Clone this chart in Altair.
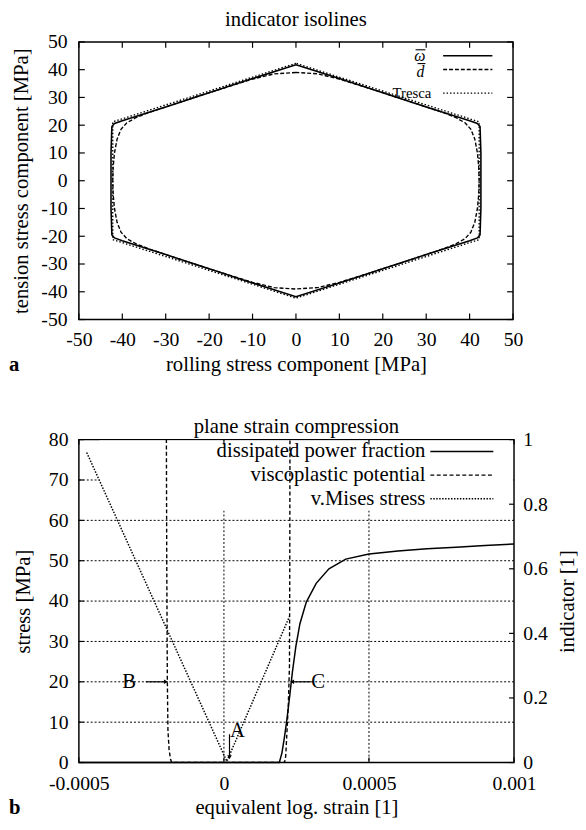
import altair as alt
import pandas as pd

FONT = "Liberation Serif"

# ---------------- panel a : indicator isolines ----------------
top_ticks = [-50, -40, -30, -20, -10, 0, 10, 20, 30, 40, 50]

omega_x = [0, -10, -20, -30, -40, -41.8, -42.4, -42.6, -42.6, -42.6, -42.4, -41.8, -40, -30, -20, -10, 0,
           10, 20, 30, 40, 41.8, 42.4, 42.6, 42.6, 42.6, 42.4, 41.8, 40, 30, 20, 10, 0]
omega_y = [41.8, 36.8, 31.7, 26.6, 21.6, 20.6, 19.5, 10, 0, -10, -19.5, -20.6, -21.6, -26.6, -31.7, -36.8, -41.8,
           -36.8, -31.7, -26.6, -21.6, -20.6, -19.5, -10, 0, 10, 19.5, 20.6, 21.6, 26.6, 31.7, 36.8, 41.8]

d_x = [0, -5, -10, -15, -20, -25, -30, -34, -37, -39, -40.3, -41.2, -41.8, -42.1, -42.2,
       -42.1, -41.8, -41.2, -40.3, -39, -37, -34, -30, -25, -20, -15, -10, -5, 0,
       5, 10, 15, 20, 25, 30, 34, 37, 39, 40.3, 41.2, 41.8, 42.1, 42.2,
       42.1, 41.8, 41.2, 40.3, 39, 37, 34, 30, 25, 20, 15, 10, 5, 0]
d_y = [39.0, 38.5, 36.6, 34.2, 31.7, 29.2, 26.6, 24.5, 22.6, 20.8, 18.5, 15, 10, 5, 0,
       -5, -10, -15, -18.5, -20.8, -22.6, -24.5, -26.6, -29.2, -31.7, -34.2, -36.6, -38.5, -39.0,
       -38.5, -36.6, -34.2, -31.7, -29.2, -26.6, -24.5, -22.6, -20.8, -18.5, -15, -10, -5, 0,
       5, 10, 15, 18.5, 20.8, 22.6, 24.5, 26.6, 29.2, 31.7, 34.2, 36.6, 38.5, 39.0]

tresca_x = [0, -42.2, -42.2, 0, 42.2, 42.2, 0]
tresca_y = [42.3, 21.2, -21.2, -42.3, -21.2, 21.2, 42.3]

top_legend = ["\u03c9", "d", "Tresca"]

# ---------------- panel b : plane strain compression ----------------
strain_ticks = [-0.0005, 0, 0.0005, 0.001]
stress_ticks = [0, 10, 20, 30, 40, 50, 60, 70, 80]
stress_grid = [10, 20, 30, 40, 50, 60, 70]
strain_grid = [0, 0.0005]
ind_ticks = [0, 0.2, 0.4, 0.6, 0.8, 1]

power_e = [-0.0005, 0.000191, 0.000200, 0.000208, 0.000216, 0.000226, 0.000236, 0.000248, 0.000262,
           0.000284, 0.000318, 0.000362, 0.00042, 0.0005, 0.0006, 0.0007, 0.0008, 0.0009, 0.001]
power_v = [0, 0, 0.03, 0.075, 0.125, 0.2, 0.28, 0.36, 0.43,
           0.497, 0.555, 0.600, 0.630, 0.646, 0.655, 0.662, 0.667, 0.672, 0.677]

pot_e = [-0.000199, -0.000197, -0.000195, -0.000193, -0.000189, -0.000184, -0.00018,
         0.000209, 0.000213, 0.000217, 0.000222, 0.000226, 0.000227, 0.000228]
pot_v = [1.2, 0.6, 0.25, 0.1, 0.04, 0.01, 0,
         0, 0.02, 0.09, 0.18, 0.3, 0.6, 1.2]

mises_e = [-0.000473, 0.00001, 0.000226]
mises_s = [76.8, 0.3, 36.2]

bottom_legend = ["dissipated power fraction", "viscoplastic potential", "v.Mises stress"]

ann_text = ["A", "B", "C"]
ann_e = [0.0000463, -0.000327, 0.000325]
ann_s = [7.8, 20, 20]
arrow_e = [0.0000192, -0.000269, 0.000301]
arrow_s = [7.0, 20, 20]
head_e = [0.0000192, -0.000200, 0.000235]
head_s = [1.3, 20, 20]
head_shape = ["triangle-down", "triangle-right", "triangle-left"]


def label(txt, x, y, size, **kw):
    return alt.Chart(pd.DataFrame({"t": [txt]})).mark_text(
        font=FONT, fontSize=size, color="black", **kw
    ).encode(x=alt.value(x), y=alt.value(y), text="t:N")


def hline(x1, x2, y, **kw):
    return alt.Chart(pd.DataFrame({"t": [0]})).mark_rule(color="black", **kw).encode(
        x=alt.value(x1), x2=alt.value(x2), y=alt.value(y))


# ================= top chart =================
W1, H1 = 441, 282
sx1 = alt.Scale(domain=[-50, 50], nice=False, zero=False)
sy1 = alt.Scale(domain=[-50, 50], nice=False, zero=False)

xa1 = alt.Axis(values=top_ticks, format="d", title="rolling stress component [MPa]",
               labelBaseline="alphabetic", labelPadding=26,
               titleBaseline="alphabetic", titleX=W1 / 2, titleY=52)
ya1 = alt.Axis(values=top_ticks, format="d", title="tension stress component [MPa]", labelPadding=12,
               titleAngle=270, titleBaseline="alphabetic", titleAlign="center",
               titleX=-52, titleY=H1 / 2)


def X1(f):
    return alt.X(f, scale=sx1, axis=xa1)


def Y1(f):
    return alt.Y(f, scale=sy1, axis=ya1)


def loop(xv, yv):
    return pd.DataFrame({"x": xv, "y": yv, "i": list(range(len(xv)))})


omega = alt.Chart(loop(omega_x, omega_y)).mark_line(color="black", strokeWidth=1.6).encode(
    x=X1("x:Q"), y=Y1("y:Q"), order="i:Q")
dbar = alt.Chart(loop(d_x, d_y)).mark_line(color="black", strokeWidth=1.4, strokeDash=[4, 2]).encode(
    x=X1("x:Q"), y=Y1("y:Q"), order="i:Q")
tresca = alt.Chart(loop(tresca_x, tresca_y)).mark_line(color="black", strokeWidth=1.4, strokeDash=[1.5, 2]).encode(
    x=X1("x:Q"), y=Y1("y:Q"), order="i:Q")

tk1 = pd.DataFrame({"v": top_ticks})
t1_left = alt.Chart(tk1).mark_rule(color="black", strokeWidth=1.2).encode(
    y=Y1("v:Q"), x=alt.value(0), x2=alt.value(6))
t1_right = alt.Chart(tk1).mark_rule(color="black", strokeWidth=1.2).encode(
    y=Y1("v:Q"), x=alt.value(W1 - 6), x2=alt.value(W1))
t1_bottom = alt.Chart(tk1).mark_rule(color="black", strokeWidth=1.2).encode(
    x=X1("v:Q"), y=alt.value(H1 - 6), y2=alt.value(H1))
t1_top = alt.Chart(tk1).mark_rule(color="black", strokeWidth=1.2).encode(
    x=X1("v:Q"), y=alt.value(0), y2=alt.value(6))

top_layers = [
    omega, dbar, tresca, t1_left, t1_right, t1_bottom, t1_top,
    label("indicator isolines", W1 / 2, -16, 21, align="center", baseline="alphabetic"),
    label("a", -71, H1 + 52, 21, fontWeight="bold", align="left", baseline="alphabetic"),
    # legend: omega-bar, d-bar, Tresca
    label(top_legend[0], 352, 19, 16, fontStyle="italic", align="right", baseline="alphabetic"),
    hline(342, 352, 8, strokeWidth=1.1),
    label(top_legend[1], 351, 36, 16, fontStyle="italic", align="right", baseline="alphabetic"),
    hline(344, 352, 22, strokeWidth=1.1),
    label(top_legend[2], 358, 57, 15, align="right", baseline="alphabetic"),
    hline(370, 420, 14, strokeWidth=1.6),
    hline(370, 420, 28, strokeWidth=1.4, strokeDash=[4, 2]),
    hline(370, 420, 52, strokeWidth=1.4, strokeDash=[1.5, 2]),
]
top = alt.layer(*top_layers).properties(width=W1, height=H1)

# ================= bottom chart =================
W2, H2 = 442, 328
sx2 = alt.Scale(domain=[-0.0005, 0.001], nice=False, zero=False)
sy2 = alt.Scale(domain=[0, 80], nice=False, zero=False)
sr2 = alt.Scale(domain=[0, 1], nice=False, zero=False)

xa2 = alt.Axis(values=strain_ticks, format=".4~f", title="equivalent log. strain [1]",
               labelBaseline="alphabetic", labelPadding=27,
               titleBaseline="alphabetic", titleX=W2 / 2, titleY=52)
ya2 = alt.Axis(values=stress_ticks, format="d", title="stress [MPa]", labelPadding=11,
               titleAngle=270, titleBaseline="alphabetic", titleAlign="center",
               titleX=-50, titleY=H2 / 2)
yr2 = alt.Axis(orient="right", values=ind_ticks, format="~g", title="indicator [1]", labelPadding=9,
               titleAngle=270, titleBaseline="alphabetic", titleAlign="center",
               titleX=60, titleY=H2 / 2)


def X2(f):
    return alt.X(f, scale=sx2, axis=xa2)


def YL(f):
    return alt.Y(f, scale=sy2, axis=ya2)


def YR(f):
    return alt.Y(f, scale=sr2, axis=yr2)


one = pd.DataFrame({"t": [0]})
grid_h = alt.Chart(pd.DataFrame({"v": stress_grid})).mark_rule(
    color="black", strokeWidth=1, strokeDash=[2, 2]).encode(
    y=YL("v:Q"), x=alt.value(0), x2=alt.value(W2))
grid_v = alt.Chart(pd.DataFrame({"v": strain_grid})).mark_rule(
    color="black", strokeWidth=1, strokeDash=[2, 2]).encode(
    x=X2("v:Q"), y=alt.value(0), y2=alt.value(H2))
keybox = alt.Chart(one).mark_rect(fill="white").encode(
    x=alt.value(21), x2=alt.value(W2 - 1), y=alt.value(1), y2=alt.value(72))

mises = alt.Chart(pd.DataFrame({"e": mises_e, "s": mises_s, "i": list(range(len(mises_e)))})).mark_line(
    color="black", strokeWidth=1.5, strokeDash=[1.5, 1.5]).encode(
    x=X2("e:Q"), y=YL("s:Q"), order="i:Q")

ann = alt.Chart(pd.DataFrame({"t": ann_text, "e": ann_e, "s": ann_s})).mark_text(
    font=FONT, fontSize=21, color="black", baseline="middle", align="center").encode(
    x=X2("e:Q"), y=YL("s:Q"), text="t:N")
arrows = alt.Chart(pd.DataFrame({"e": arrow_e, "s": arrow_s, "e2": head_e, "s2": head_s})).mark_rule(
    color="black", strokeWidth=1.2).encode(
    x=X2("e:Q"), x2="e2:Q", y=YL("s:Q"), y2="s2:Q")
heads = alt.Chart(pd.DataFrame({"e": head_e, "s": head_s, "sh": head_shape})).mark_point(
    filled=True, color="black", size=22, opacity=1).encode(
    x=X2("e:Q"), y=YL("s:Q"), shape=alt.Shape("sh:N", scale=None))

tk_s = pd.DataFrame({"v": stress_ticks})
tk_e = pd.DataFrame({"v": strain_ticks})
tk_r = pd.DataFrame({"v": ind_ticks})
t2_left = alt.Chart(tk_s).mark_rule(color="black", strokeWidth=1.2).encode(
    y=YL("v:Q"), x=alt.value(0), x2=alt.value(5))
t2_bottom = alt.Chart(tk_e).mark_rule(color="black", strokeWidth=1.2).encode(
    x=X2("v:Q"), y=alt.value(H2 - 5), y2=alt.value(H2))
t2_top = alt.Chart(tk_e).mark_rule(color="black", strokeWidth=1.2).encode(
    x=X2("v:Q"), y=alt.value(0), y2=alt.value(5))

left_group = alt.layer(grid_h, grid_v, keybox, mises, ann, arrows, heads, t2_left, t2_bottom, t2_top)

power = alt.Chart(pd.DataFrame({"e": power_e, "p": power_v, "i": list(range(len(power_e)))})).mark_line(
    color="black", strokeWidth=1.5).encode(
    x=X2("e:Q"), y=YR("p:Q"), order="i:Q")
pot = alt.Chart(pd.DataFrame({"e": pot_e, "p": pot_v, "i": list(range(len(pot_e)))})).mark_line(
    color="black", strokeWidth=1.4, strokeDash=[4, 2.5], clip=True).encode(
    x=X2("e:Q"), y=YR("p:Q"), order="i:Q")
t2_right = alt.Chart(tk_r).mark_rule(color="black", strokeWidth=1.2).encode(
    y=YR("v:Q"), x=alt.value(W2 - 5), x2=alt.value(W2))

right_group = alt.layer(
    power, pot, t2_right,
    label(bottom_legend[0], 352, 12, 21, align="right", baseline="middle"),
    label(bottom_legend[1], 352, 36, 21, align="right", baseline="middle"),
    label(bottom_legend[2], 352, 60, 21, align="right", baseline="middle"),
    hline(357, 421, 12, strokeWidth=1.5),
    hline(357, 421, 36, strokeWidth=1.4, strokeDash=[4, 2.5]),
    hline(357, 421, 60, strokeWidth=1.5, strokeDash=[1.5, 1.5]),
    label("plane strain compression", W2 / 2, -7, 21, align="center", baseline="alphabetic"),
    label("b", -71, H2 + 52, 21, fontWeight="bold", align="left", baseline="alphabetic"),
)

bottom = alt.layer(left_group, right_group).resolve_scale(y="independent").properties(width=W2, height=H2)

chart = alt.vconcat(top, bottom, spacing=40).properties(
    padding={"left": 0, "top": -6, "right": 0, "bottom": 0}
).configure(
    background="white",
    locale={"number": {"decimal": ".", "thousands": ",", "grouping": [3],
                       "currency": ["$", ""], "minus": "-"}}
).configure_view(
    stroke="black", strokeWidth=1.5
).configure_axis(
    domain=False, ticks=False, tickSize=0, grid=False, labelFlush=False, labelOverlap=False,
    labelFont=FONT, labelFontSize=20, labelColor="black",
    titleFont=FONT, titleFontSize=21, titleFontWeight="normal", titleColor="black"
)

chart.save("out.html", embed_options={"renderer": "svg", "actions": False})
